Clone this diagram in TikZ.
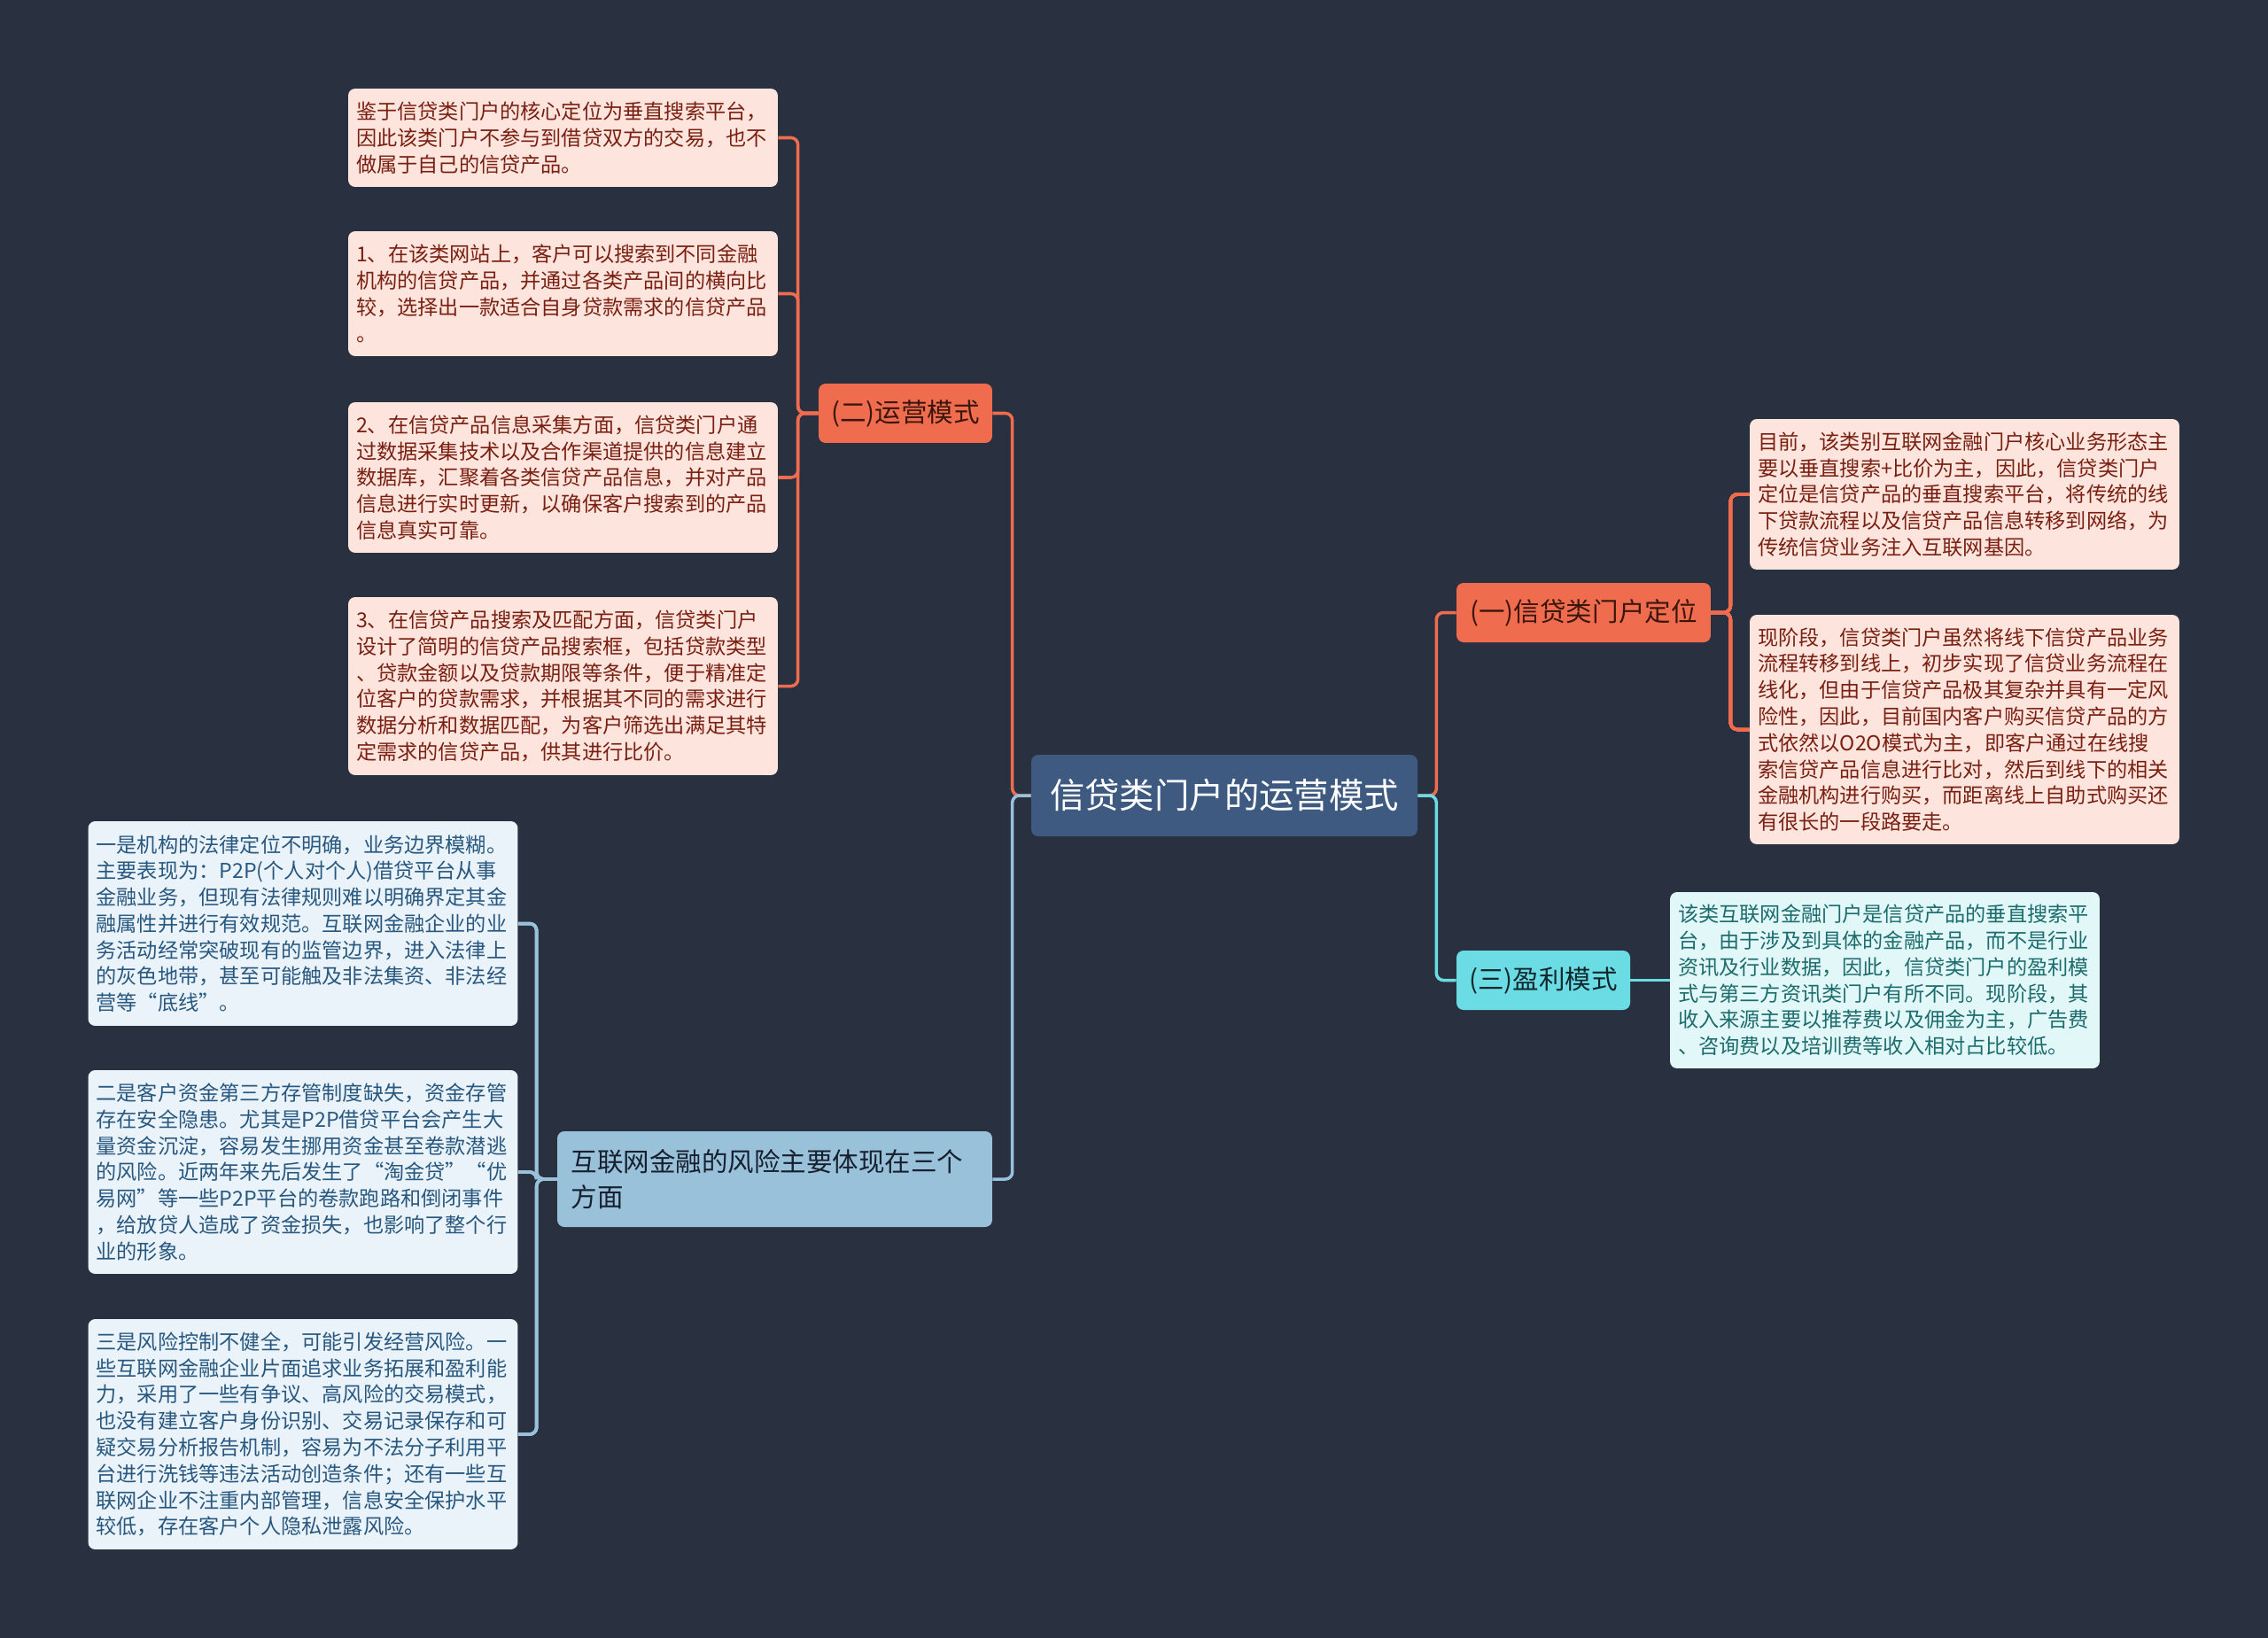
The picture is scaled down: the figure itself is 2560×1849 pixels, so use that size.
\documentclass[tikz,border=0pt]{standalone}
\usepackage{fontspec}
\setmainfont{Noto Sans CJK SC}
\usetikzlibrary{positioning}
\definecolor{bgnavy}{RGB}{41,49,64}
\definecolor{rootblue}{RGB}{62,90,128}
\definecolor{orangebr}{RGB}{239,108,79}
\definecolor{orangetx}{RGB}{58,22,12}
\definecolor{pinkleaf}{RGB}{253,228,221}
\definecolor{pinktx}{RGB}{122,32,18}
\definecolor{bluebr}{RGB}{154,193,218}
\definecolor{bluetx}{RGB}{22,32,46}
\definecolor{blueleaf}{RGB}{234,243,249}
\definecolor{blueltx}{RGB}{40,88,128}
\definecolor{cyanbr}{RGB}{108,220,228}
\definecolor{cyantx}{RGB}{16,40,44}
\definecolor{cyanleaf}{RGB}{226,247,248}
\definecolor{cyanltx}{RGB}{28,108,110}
\tikzset{
  rootbox/.style={
    fill=rootblue,
    rounded corners=4.5pt,
    text=white,
    minimum width=8.72cm,
    minimum height=1.84cm,
    inner sep=0pt,
    font=\fontsize{22.4pt}{27pt}\selectfont
  },
  topic/.style={rounded corners=4.5pt, minimum height=1.34cm, inner sep=0pt, font=\fontsize{16.8pt}{23pt}\selectfont},
  topico/.style={topic, fill=orangebr, text=orangetx},
  topicc/.style={topic, fill=cyanbr, text=cyantx},
  topicb/.style={topic, fill=bluebr, text=bluetx, align=left, text width=9.2cm, inner xsep=0.31cm},
  leaf/.style={rounded corners=4.5pt, align=left, text width=9.34cm, inner xsep=0.18cm, inner ysep=0pt,
    font=\fontsize{13.2pt}{16.95pt}\selectfont},
  leafo/.style={leaf, fill=pinkleaf, text=pinktx},
  leafb/.style={leaf, fill=blueleaf, text=blueltx},
  leafc/.style={leaf, fill=cyanleaf, text=cyanltx},
  link/.style={line width=2pt, rounded corners=4.5pt},
  linko/.style={link, draw=orangebr},
  linkb/.style={link, draw=bluebr},
  linkc/.style={link, draw=cyanbr}
}
\newcommand{\branchlink}[4]{\draw[#1] (#2) -- ++(#3,0) |- (#4);}

\begin{document}
\begin{tikzpicture}[x=0.02cm, y=-0.02cm]
  \fill[bgnavy] (0,0) rectangle (2560,1849);
  \useasboundingbox (0,0) rectangle (2560,1849);

  \node[rootbox] (root) at (1382,898) {信贷类门户的运营模式};

  \node[topico, minimum width=3.92cm] (yy) at (1022,466.5) {(二)运营模式};
  \node[topico, minimum width=5.74cm] (dw) at (1787.5,691.5) {(一)信贷类门户定位};
  \node[topicc, minimum width=3.92cm] (yl) at (1742,1106.5) {(三)盈利模式};
  \node[topicb, minimum height=2.16cm] (fx) at (874.5,1331) {互联网金融的风险主要体现在三个\\方面};

  % (二) leaves
  \node[leafo, minimum height=2.22cm] (yy1) at (635.5,155.5) {鉴于信贷类门户的核心定位为垂直搜索平台，\\因此该类门户不参与到借贷双方的交易，也不\\做属于自己的信贷产品。};
  \node[leafo, minimum height=2.82cm] (yy2) at (635.5,331.5) {1、在该类网站上，客户可以搜索到不同金融\\机构的信贷产品，并通过各类产品间的横向比\\较，选择出一款适合自身贷款需求的信贷产品\\。};
  \node[leafo, minimum height=3.40cm] (yy3) at (635.5,539) {2、在信贷产品信息采集方面，信贷类门户通\\过数据采集技术以及合作渠道提供的信息建立\\数据库，汇聚着各类信贷产品信息，并对产品\\信息进行实时更新，以确保客户搜索到的产品\\信息真实可靠。};
  \node[leafo, minimum height=4.02cm] (yy4) at (635.5,774.5) {3、在信贷产品搜索及匹配方面，信贷类门户\\设计了简明的信贷产品搜索框，包括贷款类型\\、贷款金额以及贷款期限等条件，便于精准定\\位客户的贷款需求，并根据其不同的需求进行\\数据分析和数据匹配，为客户筛选出满足其特\\定需求的信贷产品，供其进行比价。};

  % risk leaves
  \node[leafb, minimum height=4.62cm] (fx1) at (342,1042.5) {一是机构的法律定位不明确，业务边界模糊。\\主要表现为：P2P(个人对个人)借贷平台从事\\金融业务，但现有法律规则难以明确界定其金\\融属性并进行有效规范。互联网金融企业的业\\务活动经常突破现有的监管边界，进入法律上\\的灰色地带，甚至可能触及非法集资、非法经\\营等“底线”。};
  \node[leafb, minimum height=4.60cm] (fx2) at (342,1323) {二是客户资金第三方存管制度缺失，资金存管\\存在安全隐患。尤其是P2P借贷平台会产生大\\量资金沉淀，容易发生挪用资金甚至卷款潜逃\\的风险。近两年来先后发生了“淘金贷”“优\\易网”等一些P2P平台的卷款跑路和倒闭事件\\，给放贷人造成了资金损失，也影响了整个行\\业的形象。};
  \node[leafb, minimum height=5.20cm] (fx3) at (342,1619) {三是风险控制不健全，可能引发经营风险。一\\些互联网金融企业片面追求业务拓展和盈利能\\力，采用了一些有争议、高风险的交易模式，\\也没有建立客户身份识别、交易记录保存和可\\疑交易分析报告机制，容易为不法分子利用平\\台进行洗钱等违法活动创造条件；还有一些互\\联网企业不注重内部管理，信息安全保护水平\\较低，存在客户个人隐私泄露风险。};

  % (一) leaves
  \node[leafo, minimum height=3.40cm] (dw1) at (2217.5,558) {目前，该类别互联网金融门户核心业务形态主\\要以垂直搜索+比价为主，因此，信贷类门户\\定位是信贷产品的垂直搜索平台，将传统的线\\下贷款流程以及信贷产品信息转移到网络，为\\传统信贷业务注入互联网基因。};
  \node[leafo, minimum height=5.18cm] (dw2) at (2217.5,823.5) {现阶段，信贷类门户虽然将线下信贷产品业务\\流程转移到线上，初步实现了信贷业务流程在\\线化，但由于信贷产品极其复杂并具有一定风\\险性，因此，目前国内客户购买信贷产品的方\\式依然以O2O模式为主，即客户通过在线搜\\索信贷产品信息进行比对，然后到线下的相关\\金融机构进行购买，而距离线上自助式购买还\\有很长的一段路要走。};

  % (三) leaf
  \node[leafc, minimum height=3.98cm] (yl1) at (2127.5,1106.5) {该类互联网金融门户是信贷产品的垂直搜索平\\台，由于涉及到具体的金融产品，而不是行业\\资讯及行业数据，因此，信贷类门户的盈利模\\式与第三方资讯类门户有所不同。现阶段，其\\收入来源主要以推荐费以及佣金为主，广告费\\、咨询费以及培训费等收入相对占比较低。};

  \branchlink{linko}{root.west}{-21}{yy.east}
  \branchlink{linkb}{root.west}{-21}{fx.east}
  \branchlink{linko}{root.east}{21}{dw.west}
  \branchlink{linkc}{root.east}{21}{yl.west}
  \foreach \n in {yy1,yy2,yy3,yy4}
    \branchlink{linko}{yy.west}{-23}{\n.east}
  \foreach \n in {fx1,fx2,fx3}
    \branchlink{linkb}{fx.west}{-23}{\n.east}
  \foreach \n in {dw1,dw2}
    \branchlink{linko}{dw.east}{22}{\n.west}
  \draw[linkc] (yl.east) -- (yl1.west);
\end{tikzpicture}
\end{document}
